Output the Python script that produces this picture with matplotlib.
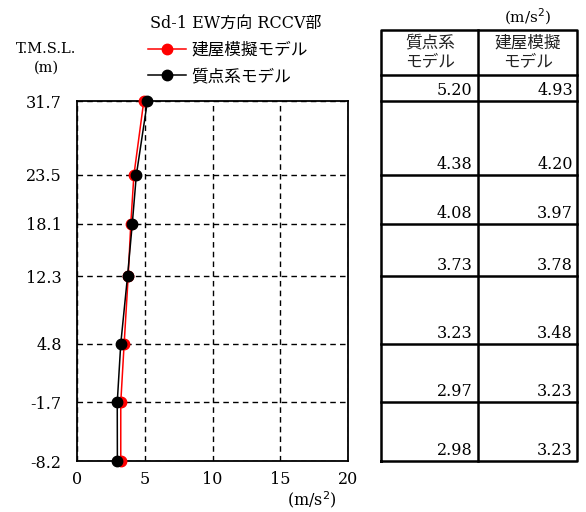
import matplotlib
matplotlib.use("Agg")
import matplotlib.pyplot as plt

plt.rcParams['font.family'] = ['DejaVu Serif', 'Noto Sans CJK JP']
plt.rcParams['axes.unicode_minus'] = False

# data
levels = [31.7, 23.5, 18.1, 12.3, 4.8, -1.7, -8.2]
level_labels = ["31.7", "23.5", "18.1", "12.3", "4.8", "-1.7", "-8.2"]
mass_model = [5.20, 4.38, 4.08, 3.73, 3.23, 2.97, 2.98]      # 質点系モデル
bldg_model = [4.93, 4.20, 3.97, 3.78, 3.48, 3.23, 3.23]      # 建屋模擬モデル
xticks = [0, 5, 10, 15, 20]

W, H = 586, 512
fig = plt.figure(figsize=(W / 100, H / 100), dpi=100)

# ---- profile plot
ax = fig.add_axes([77 / W, 51 / H, 271 / W, 360 / H])
ax.plot(bldg_model, levels, color="red", lw=1.1, marker="o", ms=7.5,
        label="建屋模擬モデル", clip_on=False, zorder=3)
ax.plot(mass_model, levels, color="black", lw=1.1, marker="o", ms=7.5,
        label="質点系モデル", clip_on=False, zorder=4)
ax.set_xlim(0, 20)
ax.set_ylim(levels[-1], levels[0])
ax.set_xticks(xticks)
ax.set_xticklabels([str(v) for v in xticks])
ax.set_yticks(levels)
ax.set_yticklabels(level_labels)
ax.tick_params(length=0, labelsize=11.5)
ax.tick_params(axis="y", pad=11)
ax.tick_params(axis="x", pad=7)
ax.grid(True, color="black", ls=(0, (4, 3)), lw=1.0)
for s in ax.spines.values():
    s.set_linewidth(1.3)

fig.text(236 / W, 1 - 23 / H, "Sd-1 EW方向 RCCV部", ha="center", va="center", fontsize=11.5)
fig.text(46 / W, 1 - 58 / H, "T.M.S.L.\n(m)", ha="center", va="center", fontsize=10.5,
         linespacing=1.45)
fig.text(312 / W, 1 - 500 / H, "(m/s$^2$)", ha="center", va="center", fontsize=11.5)

fig.legend(loc="upper left", bbox_to_anchor=(148 / W, 1 - 42 / H), frameon=False,
           fontsize=12, handlelength=2.3, handletextpad=0.3, labelspacing=0.55,
           borderpad=0, borderaxespad=0)

# ---- value table (rows line up with the levels)
tab = fig.add_axes([381 / W, 51 / H, 196 / W, 431 / H])
m_per_px = (levels[0] - levels[-1]) / 360
top = levels[0] + 71 * m_per_px
head = levels[0] + 26 * m_per_px
tab.set_xlim(0, 1)
tab.set_ylim(levels[-1], top)
tab.axis("off")

lw = 1.8
tab.plot([0, 1, 1, 0, 0], [levels[-1], levels[-1], top, top, levels[-1]],
         color="black", lw=lw, clip_on=False)
tab.plot([0.495, 0.495], [levels[-1], top], color="black", lw=lw, clip_on=False)
for y in [head] + levels[:-1]:
    tab.plot([0, 1], [y, y], color="black", lw=lw, clip_on=False)

tab.text(0.25, (head + top) / 2, "質点系\nモデル", ha="center", va="center",
         fontsize=12, linespacing=1.15, color="#222222")
tab.text(0.75, (head + top) / 2, "建屋模擬\nモデル", ha="center", va="center",
         fontsize=12, linespacing=1.15, color="#222222")
tab.text(0.75, top + 13 * m_per_px, "(m/s$^2$)", ha="center", va="center", fontsize=11)

for lev, a, b in zip(levels, mass_model, bldg_model):
    tab.annotate(f"{a:.2f}", xy=(0.495, lev), xytext=(-4, 1.5), textcoords="offset points",
                 ha="right", va="bottom", fontsize=11.5)
    tab.annotate(f"{b:.2f}", xy=(1.0, lev), xytext=(-3, 1.5), textcoords="offset points",
                 ha="right", va="bottom", fontsize=11.5)

fig.savefig("out.png", dpi=100)
